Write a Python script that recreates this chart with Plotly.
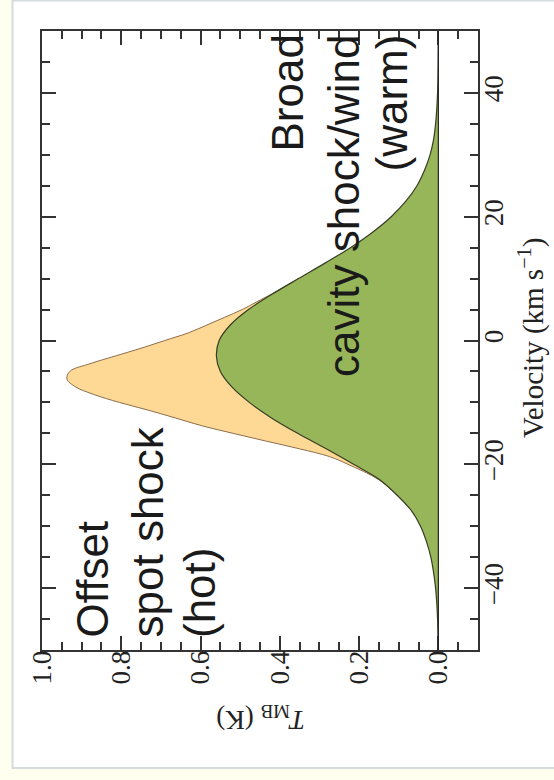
import plotly.graph_objects as go

# ---- data ----
velocity = [-50, -47.5, -45, -42.5, -40, -37.5, -35, -32.5, -30, -27.5, -25, -22.5,
            -20, -17.5, -15, -12.5, -10, -7.5, -5, -2.5, 0, 2.5, 5, 7.5, 10, 12.5,
            15, 17.5, 20, 22.5, 25, 27.5, 30, 32.5, 35, 37.5, 40, 42.5, 45, 47.5, 50]
t_warm = [0.000, 0.001, 0.002, 0.004, 0.007, 0.012, 0.019, 0.030, 0.045, 0.068, 0.104, 0.148,
          0.214, 0.283, 0.355, 0.421, 0.477, 0.521, 0.550, 0.560, 0.553, 0.525, 0.479, 0.419, 0.353, 0.286,
          0.222, 0.166, 0.119, 0.082, 0.054, 0.035, 0.021, 0.012, 0.007, 0.004, 0.002, 0.001, 0.0005, 0.0002, 0.000]

velocity_hot = [-25, -22.5, -20, -18.75, -17.5, -16.25, -15, -13.75, -12.5, -11.25, -10, -8.75,
                -7.5, -6.25, -5, -3.75, -2.5, -1.25, 0, 1.25, 2.5, 3.75, 5, 6.25, 7.5, 10]
t_hot = [0.104, 0.150, 0.228, 0.275, 0.350, 0.435, 0.518, 0.598, 0.664, 0.732, 0.805, 0.868,
         0.915, 0.937, 0.930, 0.879, 0.815, 0.750, 0.690, 0.630, 0.584, 0.539, 0.495, 0.458, 0.421, 0.353]

t_tickvals = [0.0, 0.2, 0.4, 0.6, 0.8, 1.0]
t_ticktext = ["0.0", "0.2", "0.4", "0.6", "0.8", "1.0"]
v_tickvals = [-40, -20, 0, 20, 40]
v_ticktext = ["\u221240", "\u221220", "0", "20", "40"]

hot_lines = ["Offset", "spot shock", "(hot)"]
warm_lines = ["Broad", "cavity shock/wind", "(warm)"]

# ---- layout geometry ----
W, H = 554, 780
L, R, T, B = 42, 478, 31, 650

def px(xp):
    return (xp - L) / (R - L)

def py(yp):
    return (B - yp) / (B - T)

fig = go.Figure()

fig.add_trace(go.Scatter(
    x=t_hot, y=velocity_hot, mode="lines", line=dict(color="rgb(140,110,75)", width=1, shape="spline"),
    fill="tozerox", fillcolor="rgb(254,217,150)", hoverinfo="skip", showlegend=False))
fig.add_trace(go.Scatter(
    x=t_warm, y=velocity, mode="lines", line=dict(color="rgb(55,62,35)", width=1.2, shape="spline"),
    fill="tozerox", fillcolor="rgb(151,182,89)", hoverinfo="skip", showlegend=False))

tickfont = dict(family="Liberation Serif", size=27, color="#222")
fig.update_xaxes(
    range=[1.0, -0.1], tickmode="array", tickvals=t_tickvals, ticktext=t_ticktext,
    tickangle=-90, tickfont=tickfont, ticks="inside", ticklen=14, tickwidth=2, tickcolor="#333",
    ticklabelstandoff=-12,
    minor=dict(dtick=0.05, tick0=0, ticks="inside", ticklen=8, tickwidth=1.5, tickcolor="#333"),
    showline=True, linecolor="#333", linewidth=2, mirror="allticks",
    showgrid=False, zeroline=False)
fig.update_yaxes(
    range=[-50, 50], side="right", tickmode="array", tickvals=v_tickvals, ticktext=v_ticktext,
    tickangle=-90, tickfont=tickfont, ticks="inside", ticklen=14, tickwidth=2, tickcolor="#333",
    ticklabelstandoff=-9,
    minor=dict(dtick=5, tick0=0, ticks="inside", ticklen=8, tickwidth=1.5, tickcolor="#333"),
    showline=True, linecolor="#333", linewidth=2, mirror="allticks",
    showgrid=False, zeroline=False)

shapes = [
    # outer page frame
    dict(type="rect", xref="paper", yref="paper", x0=px(12.5), x1=px(570), y0=py(768), y1=py(0.5),
         fillcolor="white", line=dict(color="rgb(214,220,222)", width=2), layer="below"),
    # T = 0 baseline
    dict(type="line", xref="x", yref="paper", x0=0, x1=0, y0=0, y1=1,
         line=dict(color="#222", width=1.2), layer="above"),
]

ann_font = dict(family="Liberation Sans", size=44, color="#1a1a1a")
annotations = []
for txt, xc in zip(hot_lines, [92, 147, 199]):
    annotations.append(dict(text=txt, textangle=-90, xref="paper", yref="paper",
                            x=px(xc), y=py(640), xanchor="center", yanchor="bottom",
                            showarrow=False, font=ann_font))
for txt, xc in zip(warm_lines, [287, 343, 391]):
    annotations.append(dict(text=txt, textangle=-90, xref="paper", yref="paper",
                            x=px(xc), y=py(33), xanchor="center", yanchor="top",
                            showarrow=False, font=ann_font))
annotations.append(dict(text="Velocity (km s<sup>\u22121</sup>)", textangle=-90, xref="paper", yref="paper",
                        x=px(532), y=py(338), xanchor="center", yanchor="middle", showarrow=False,
                        font=dict(family="Liberation Serif", size=29, color="#222")))
annotations.append(dict(text="<i>T</i><sub>MB</sub> (K)", textangle=180, xref="paper", yref="paper",
                        x=px(261), y=py(718), xanchor="center", yanchor="middle", showarrow=False,
                        font=dict(family="Liberation Serif", size=27, color="#222")))

fig.update_layout(
    width=W, height=H, margin=dict(l=L, r=W - R, t=T, b=H - B),
    paper_bgcolor="rgb(255,255,240)", plot_bgcolor="white",
    shapes=shapes, annotations=annotations, showlegend=False)

fig.write_html("out.html", config={"displayModeBar": False}, post_script=(
    "document.body.style.margin='0';"
    "document.body.style.overflow='hidden';"
    "document.body.style.background='rgb(255,255,240)';"))
